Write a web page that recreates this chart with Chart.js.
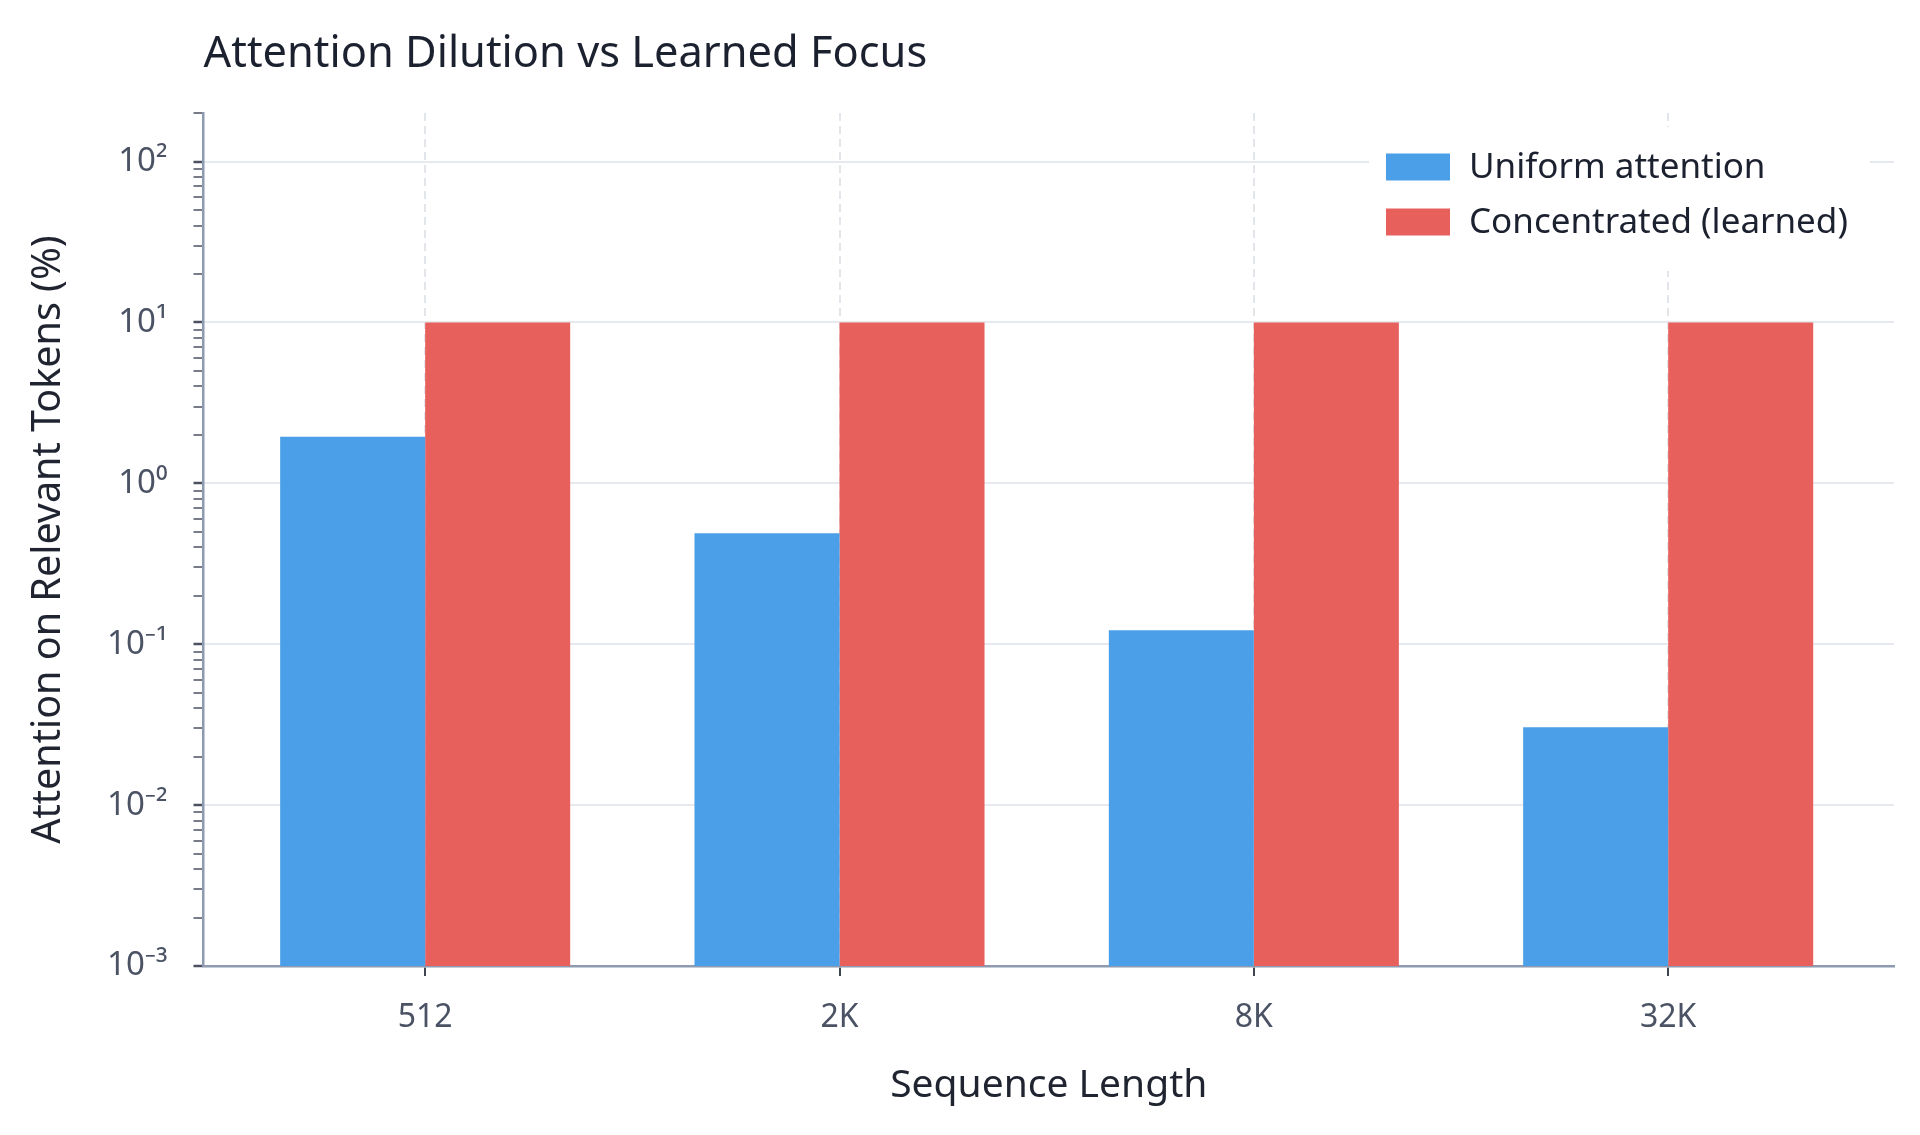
<!DOCTYPE html>
<html>
<head>
<meta charset="utf-8">
<script src="https://cdn.jsdelivr.net/npm/chart.js@4.4.1/dist/chart.umd.min.js"></script>
<style>
  html, body { margin: 0; padding: 0; background: #ffffff; }
  #wrap { width: 1920px; height: 1135px; position: relative; }
</style>
</head>
<body>
<div id="wrap"><canvas id="chart"></canvas></div>
<script>
// data
var categories = ['512', '2K', '8K', '32K'];
var uniformValues = [1.95, 0.49, 0.122, 0.0305];
var learnedValues = [10, 10, 10, 10];
var seriesNames = ['Uniform attention', 'Concentrated (learned)'];
var seriesColors = ['#4a9fe8', '#e8605c'];
var yExponents = [-3, -2, -1, 0, 1, 2];

var FONT = "'Noto Sans', 'DejaVu Sans', sans-serif";
var SUP = { '-': '\u207B', '0': '\u2070', '1': '\u00B9', '2': '\u00B2', '3': '\u00B3',
            '4': '\u2074', '5': '\u2075', '6': '\u2076', '7': '\u2077', '8': '\u2078', '9': '\u2079' };

function isMajor(v) {
  var l = Math.log10(v);
  return Math.abs(l - Math.round(l)) < 1e-9;
}
function powLabel(v) {
  var e = String(Math.round(Math.log10(v)));
  return '10' + e.split('').map(function (c) { return SUP[c]; }).join('');
}

// legend drawn inside the plot, top right
var insideLegend = {
  id: 'insideLegend',
  afterDraw: function (chart) {
    var ctx = chart.ctx;
    ctx.save();
    ctx.fillStyle = '#ffffff';
    ctx.fillRect(1369, 127, 501, 144);
    ctx.font = '35px ' + FONT;
    ctx.textBaseline = 'middle';
    ctx.textAlign = 'left';
    chart.data.datasets.forEach(function (ds, i) {
      var cy = 167 + i * 55;
      ctx.fillStyle = ds.backgroundColor;
      ctx.fillRect(1386, cy - 13.5, 64, 27);
      ctx.fillStyle = '#1c2130';
      ctx.fillText(ds.label, 1469, cy + 1);
    });
    ctx.restore();
  }
};

function points(values) {
  return categories.map(function (c, i) { return { x: i, y: values[i] }; });
}

var config = {
  type: 'bar',
  data: {
    datasets: [{
      label: seriesNames[0],
      data: points(uniformValues),
      backgroundColor: seriesColors[0],
      borderWidth: 0
    }, {
      label: seriesNames[1],
      data: points(learnedValues),
      backgroundColor: seriesColors[1],
      borderWidth: 0
    }]
  },
  options: {
    responsive: true,
    maintainAspectRatio: false,
    animation: false,
    devicePixelRatio: 1,
    categoryPercentage: 0.7,
    barPercentage: 1.0,
    layout: { padding: { left: 0, right: 26, top: 0, bottom: 0 } },
    plugins: {
      legend: { display: false },
      tooltip: { enabled: false },
      title: {
        display: true,
        text: 'Attention Dilution vs Learned Focus',
        align: 'start',
        fullSize: false,
        color: '#1c2130',
        font: { family: FONT, size: 43.4, weight: 'normal' },
        padding: { top: 29, bottom: 32 }
      }
    },
    scales: {
      x: {
        type: 'linear',
        min: -0.535,
        max: 3.545,
        offset: false,
        afterBuildTicks: function (scale) {
          scale.ticks = categories.map(function (c, i) { return { value: i }; });
        },
        afterFit: function (scale) { scale.height = 169; },
        ticks: {
          autoSkip: false,
          maxRotation: 0,
          padding: 23,
          color: '#4a5264',
          font: { family: FONT, size: 32 },
          callback: function (v) { return categories[v]; }
        },
        grid: {
          offset: false,
          color: '#e2e6eb',
          lineWidth: 2,
          tickColor: '#3f4652',
          tickLength: 10,
          tickWidth: 2
        },
        border: { color: '#8d9ab0', width: 2.5, dash: [8, 5] },
        title: {
          display: true,
          text: 'Sequence Length',
          color: '#1f2430',
          font: { family: FONT, size: 39 },
          padding: { top: 0, bottom: 26 }
        }
      },
      y: {
        type: 'logarithmic',
        min: 0.001,
        max: 200,
        afterBuildTicks: function (scale) {
          var t = [];
          yExponents.forEach(function (e) {
            for (var m = 1; m <= 9; m++) {
              var v = m * Math.pow(10, e);
              if (v <= scale.max * 1.0000001) t.push({ value: v, major: m === 1 });
            }
          });
          scale.ticks = t;
        },
        afterFit: function (scale) { scale.width = 203.5; },
        ticks: {
          autoSkip: false,
          padding: 26,
          color: '#4a5264',
          font: { family: FONT, size: 33 },
          callback: function (v) { return isMajor(v) ? powLabel(v) : ''; }
        },
        grid: {
          color: function (c) { return c.tick && isMajor(c.tick.value) ? '#e6e9ee' : 'rgba(0,0,0,0)'; },
          lineWidth: 2,
          tickColor: '#4a5160',
          tickLength: 10,
          tickWidth: function (c) { return c.tick && isMajor(c.tick.value) ? 2.5 : 1.5; }
        },
        border: { color: '#8d9ab0', width: 2.5 },
        title: {
          display: true,
          text: 'Attention on Relevant Tokens (%)',
          color: '#1f2430',
          font: { family: FONT, size: 39.5 },
          padding: { top: 25, bottom: 0 }
        }
      }
    }
  },
  plugins: [insideLegend]
};

new Chart(document.getElementById('chart').getContext('2d'), config);
</script>
</body>
</html>
